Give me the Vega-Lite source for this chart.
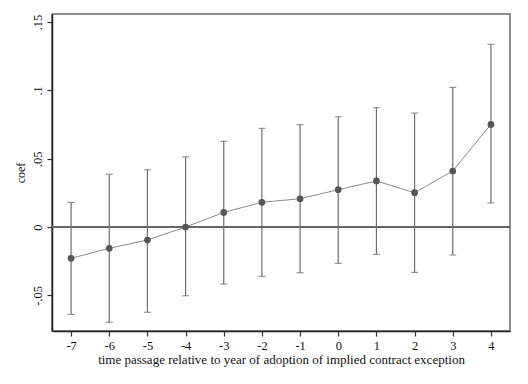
{
  "$schema": "https://vega.github.io/schema/vega-lite/v6.json",
  "width": 458,
  "height": 317,
  "autosize": "none",
  "padding": {"left": 52, "top": 14, "right": 18, "bottom": 53},
  "background": "white",
  "config": {
    "view": {"stroke": "#6a6a6a", "strokeWidth": 1.5},
    "font": "Liberation Serif",
    "axis": {"grid": false, "labelFont": "Liberation Serif", "titleFont": "Liberation Serif", "titleFontWeight": "normal", "labelColor": "#111", "titleColor": "#111", "domainColor": "#222", "domainWidth": 1.5, "tickColor": "#333", "tickWidth": 1.2}
  },
  "data": {
    "values": [
      {"t": -7, "coef": -0.0229, "lo": -0.0639, "hi": 0.0181},
      {"t": -6, "coef": -0.0156, "lo": -0.0697, "hi": 0.0386},
      {"t": -5, "coef": -0.0095, "lo": -0.0624, "hi": 0.0419},
      {"t": -4, "coef": 0.0, "lo": -0.0503, "hi": 0.0514},
      {"t": -3, "coef": 0.0107, "lo": -0.0417, "hi": 0.0627},
      {"t": -2, "coef": 0.0181, "lo": -0.0361, "hi": 0.0722},
      {"t": -1, "coef": 0.0207, "lo": -0.0334, "hi": 0.0749},
      {"t": 0, "coef": 0.0273, "lo": -0.0266, "hi": 0.0807},
      {"t": 1, "coef": 0.0337, "lo": -0.02, "hi": 0.0873},
      {"t": 2, "coef": 0.0251, "lo": -0.0332, "hi": 0.0834},
      {"t": 3, "coef": 0.041, "lo": -0.0205, "hi": 0.1022},
      {"t": 4, "coef": 0.0751, "lo": 0.0176, "hi": 0.1337}
    ]
  },
  "layer": [
    {
      "mark": {"type": "rule", "color": "#666", "strokeWidth": 1},
      "encoding": {"y": {"datum": 0, "type": "quantitative", "scale": {"domain": [-0.0761, 0.1559], "nice": false, "zero": false}, "axis": {"values": [-0.05, 0, 0.05, 0.1, 0.15], "labelExpr": "replace('' + datum.value, '0.', '.')", "labelAngle": 270, "labelAlign": "center", "labelBaseline": "bottom", "labelFontSize": 12.5, "tickSize": 5, "labelPadding": 3, "title": "coef", "titleFontSize": 12, "titlePadding": 4}}}
    },
    {
      "mark": {"type": "errorbar", "color": "#6e6e6e", "thickness": 1.2, "ticks": {"size": 7, "color": "#6e6e6e", "thickness": 1.2}},
      "encoding": {
        "x": {
          "field": "t", "type": "quantitative",
          "scale": {"domain": [-7.5, 4.5], "nice": false, "zero": false},
          "axis": {"values": [-7, -6, -5, -4, -3, -2, -1, 0, 1, 2, 3, 4], "labelExpr": "'' + datum.value", "title": "time passage relative to year of adoption of implied contract exception", "labelFontSize": 12.5, "titleFontSize": 13, "tickSize": 5, "labelPadding": 3, "titlePadding": 2}
        },
        "y": {"field": "lo", "type": "quantitative", "title": "coef"}, "y2": {"field": "hi"}}
    },
    {
      "mark": {"type": "line", "color": "#8a8a8a", "strokeWidth": 1},
      "encoding": {"x": {"field": "t", "type": "quantitative"}, "y": {"field": "coef", "type": "quantitative", "title": "coef"}}
    },
    {
      "mark": {"type": "point", "filled": true, "shape": "circle", "color": "#555", "opacity": 1, "size": 45},
      "encoding": {"x": {"field": "t", "type": "quantitative"}, "y": {"field": "coef", "type": "quantitative", "title": "coef"}}
    }
  ]
}
